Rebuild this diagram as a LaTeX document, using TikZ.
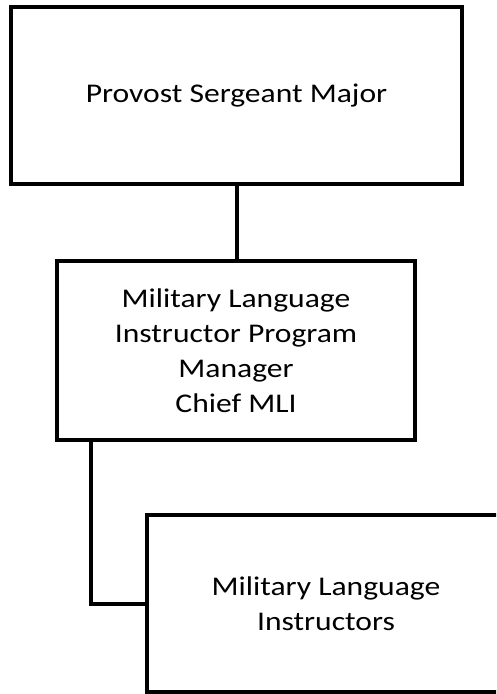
\documentclass[tikz,border=0pt]{standalone}
\usepackage{fontspec}
\setmainfont[FakeStretch=1.17]{Carlito}
\usetikzlibrary{calc}
\begin{document}
\begin{tikzpicture}[x=1pt,y=-1pt,
  orgbox/.style={draw=black,line width=4pt,fill=white,inner sep=0pt,align=center,
    font=\fontsize{27}{35}\selectfont},
  link/.style={draw=black,line width=4pt}]
\useasboundingbox (0,0) rectangle (496,694);
\clip (0,0) rectangle (496,694);
\node[orgbox,minimum width=451pt,minimum height=177pt] (b1) at (236.5,95.5) {Provost Sergeant Major};
\node[orgbox,minimum width=358pt,minimum height=179pt] (b2) at (236,350.5) {Military Language\\Instructor Program\\Manager\\Chief MLI};
\node[orgbox,minimum width=358pt,minimum height=177pt] (b3) at (326,603.5) {Military Language\\Instructors};
\coordinate (c1) at ($(b2.south west)+(36,0)$);
\draw[link] (b1.south) -- (b1.south |- b2.north);
\draw[link] (c1) |- (b3.west);
\end{tikzpicture}
\end{document}
